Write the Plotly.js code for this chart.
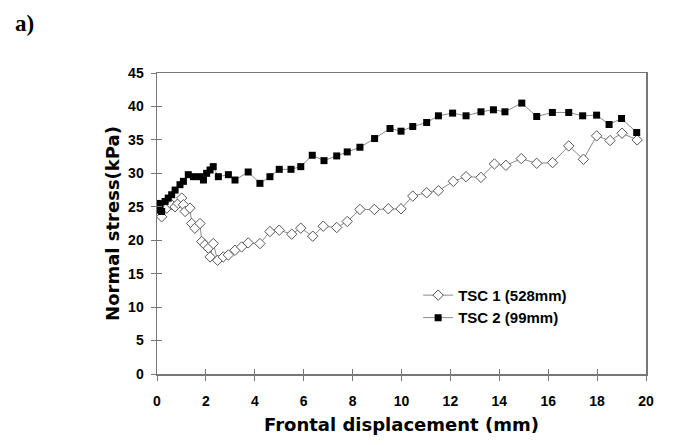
<!DOCTYPE html>
<html>
<head>
<meta charset="utf-8">
<script src="https://cdn.plot.ly/plotly-3.0.1.min.js"></script>
<style>html,body{margin:0;padding:0;background:#fff;}#chart{width:676px;height:445px;}</style>
</head>
<body>
<div id="chart"></div>
<script>
// TSC 1 (528mm) - open diamonds
const tsc1X = [0, 0.19, 0.4, 0.6, 0.74, 0.87, 1.01, 1.08, 1.15, 1.35, 1.42, 1.55, 1.76, 1.83, 1.96, 2.1, 2.17, 2.3, 2.48, 2.71, 2.92, 3.19, 3.46, 3.73, 4.21, 4.62, 5.0, 5.51, 5.88, 6.37, 6.8, 7.35, 7.78, 8.3, 8.89, 9.46, 9.98, 10.46, 11.03, 11.51, 12.12, 12.64, 13.25, 13.8, 14.27, 14.9, 15.53, 16.18, 16.84, 17.44, 17.98, 18.53, 19.02, 19.64];
const tsc1Y = [24.3, 23.5, 24.8, 25.3, 25.0, 25.5, 26.3, 25.3, 24.3, 24.8, 22.5, 21.8, 22.5, 19.8, 19.3, 18.8, 17.5, 19.5, 17.0, 17.5, 17.8, 18.5, 19.0, 19.6, 19.5, 21.3, 21.5, 20.9, 21.8, 20.6, 22.1, 21.9, 22.8, 24.6, 24.6, 24.7, 24.7, 26.6, 27.1, 27.4, 28.8, 29.5, 29.4, 31.4, 31.2, 32.2, 31.5, 31.6, 34.1, 32.1, 35.6, 34.9, 36.0, 35.0];
// TSC 2 (99mm) - filled squares
const tsc2X = [0, 0.05, 0.12, 0.19, 0.33, 0.46, 0.6, 0.74, 0.94, 1.08, 1.28, 1.49, 1.76, 1.9, 2.03, 2.17, 2.3, 2.51, 2.92, 3.19, 3.73, 4.21, 4.62, 5.0, 5.48, 5.88, 6.35, 6.83, 7.35, 7.78, 8.3, 8.9, 9.53, 9.98, 10.46, 11.03, 11.51, 12.09, 12.64, 13.25, 13.76, 14.23, 14.92, 15.53, 16.17, 16.84, 17.41, 17.98, 18.49, 19.0, 19.62];
const tsc2Y = [24.5, 25.5, 25.3, 24.3, 25.8, 26.3, 26.8, 27.5, 28.3, 28.8, 29.8, 29.5, 29.5, 29.0, 30.0, 30.5, 31.0, 29.5, 29.8, 29.0, 30.2, 28.5, 29.5, 30.6, 30.6, 31.0, 32.7, 31.9, 32.6, 33.2, 33.9, 35.2, 36.7, 36.3, 37.0, 37.6, 38.6, 39.0, 38.6, 39.2, 39.5, 39.2, 40.5, 38.5, 39.1, 39.1, 38.6, 38.7, 37.3, 38.2, 36.1];

const seriesNames = ["TSC 1 (528mm)", "TSC 2 (99mm)"];
const xTicks = [0, 2, 4, 6, 8, 10, 12, 14, 16, 18, 20];
const yTicks = [0, 5, 10, 15, 20, 25, 30, 35, 40, 45];

const SANS = 'Liberation Sans, Arial, sans-serif';
const WIDE = 'DejaVu Sans, Liberation Sans, Arial, sans-serif';

const traces = [
  {x: tsc1X, y: tsc1Y, name: seriesNames[0], type: 'scatter', mode: 'lines+markers',
   line: {color: '#8a8a8a', width: 1},
   marker: {symbol: 'diamond', size: 8, color: '#ffffff', line: {color: '#555555', width: 1}}},
  {x: tsc2X, y: tsc2Y, name: seriesNames[1], type: 'scatter', mode: 'lines+markers',
   line: {color: '#8a8a8a', width: 1},
   marker: {symbol: 'square', size: 7, color: '#000000', line: {color: '#000000', width: 0}}},
  // invisible trace to bind the overlay axes (inside ticks)
  {x: [0], y: [0], xaxis: 'x2', yaxis: 'y2', mode: 'markers', marker: {opacity: 0}, showlegend: false, hoverinfo: 'skip'}
];

const tickFont = {family: SANS, size: 14, color: '#000', weight: 'bold'};

const layout = {
  width: 676, height: 445,
  margin: {l: 157, r: 30, t: 73, b: 71},
  paper_bgcolor: '#fff', plot_bgcolor: '#fff',
  showlegend: true,
  legend: {x: 0.534, y: 0.316, xanchor: 'left', yanchor: 'top', bgcolor: 'rgba(0,0,0,0)', itemwidth: 30,
           font: {family: SANS, size: 15, color: '#000', weight: 'bold'}, tracegroupgap: 0},
  xaxis: {range: [0, 20], tickvals: xTicks, ticktext: xTicks.map(String), ticks: 'outside', ticklen: 5, tickcolor: '#777',
          showline: true, linecolor: '#777', linewidth: 1.5, mirror: true, showgrid: false, zeroline: false,
          tickfont: tickFont, ticklabelstandoff: 9,
          title: {text: 'Frontal displacement (mm)', font: {family: WIDE, size: 18, color: '#000', weight: 'bold'}, standoff: 10}},
  yaxis: {range: [0, 45], tickvals: yTicks, ticktext: yTicks.map(String), ticks: 'outside', ticklen: 5, tickcolor: '#777',
          showline: true, linecolor: '#777', linewidth: 1.5, mirror: true, showgrid: false, zeroline: false,
          tickfont: tickFont, ticklabelstandoff: 4,
          title: {text: 'Normal stress(kPa)', font: {family: WIDE, size: 18, color: '#000', weight: 'bold'}, standoff: 4}},
  xaxis2: {overlaying: 'x', range: [0, 20], tickvals: xTicks, ticks: 'inside', ticklen: 5, tickcolor: '#777',
           showticklabels: false, showline: false, showgrid: false, zeroline: false, side: 'bottom'},
  yaxis2: {overlaying: 'y', range: [0, 45], tickvals: yTicks, ticks: 'inside', ticklen: 5, tickcolor: '#777',
           showticklabels: false, showline: false, showgrid: false, zeroline: false, side: 'left'},
  annotations: [
    {text: 'a)', xref: 'paper', yref: 'paper', x: -0.2945, y: 1.166, xanchor: 'left', yanchor: 'middle', showarrow: false,
     font: {family: 'Liberation Serif, Times New Roman, serif', size: 23, color: '#000', weight: 'bold'}}
  ]
};

Plotly.newPlot('chart', traces, layout, {displayModeBar: false, staticPlot: true});
</script>
</body>
</html>
